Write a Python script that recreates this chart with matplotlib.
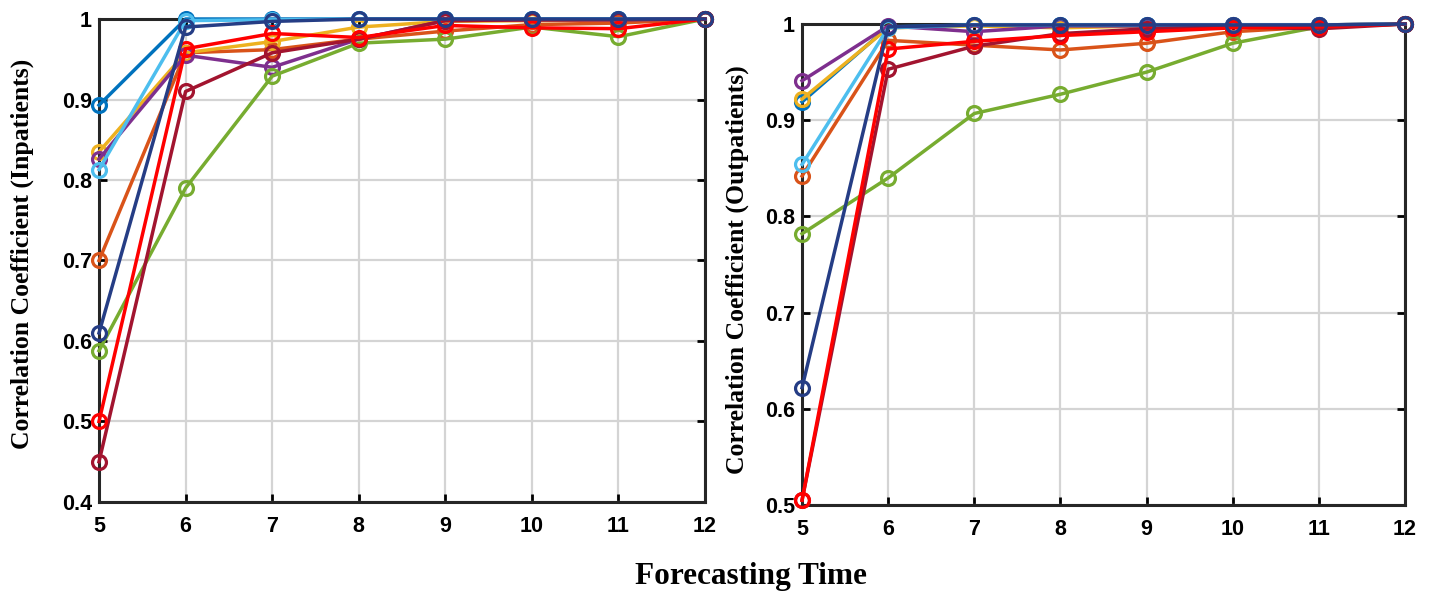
import matplotlib
matplotlib.use("Agg")
import matplotlib.pyplot as plt

# forecasting time steps
steps = [5, 6, 7, 8, 9, 10, 11, 12]

# MATLAB-like colours, one per series
colors = ["#0072BD", "#D95319", "#EDB120", "#7E2F8E", "#77AC30",
          "#4DBEEE", "#A2142F", "#FF0000", "#253D85"]

# inpatients (left panel)
in_blue   = [0.893, 1.000, 1.000, 1.000, 1.000, 1.000, 1.000, 1.000]
in_orange = [0.700, 0.958, 0.962, 0.975, 0.985, 0.993, 0.995, 1.000]
in_yellow = [0.835, 0.958, 0.972, 0.990, 0.997, 0.998, 0.999, 1.000]
in_purple = [0.826, 0.955, 0.940, 0.975, 0.998, 0.999, 0.999, 1.000]
in_green  = [0.588, 0.790, 0.929, 0.970, 0.975, 0.990, 0.978, 1.000]
in_lblue  = [0.813, 0.998, 0.999, 1.000, 1.000, 1.000, 1.000, 1.000]
in_dred   = [0.450, 0.910, 0.958, 0.975, 0.998, 0.999, 0.999, 1.000]
in_red    = [0.500, 0.963, 0.982, 0.977, 0.992, 0.989, 0.988, 1.000]
in_navy   = [0.610, 0.990, 0.997, 1.000, 1.000, 1.000, 1.000, 1.000]

# outpatients (right panel)
out_blue   = [0.919, 0.997, 0.999, 0.999, 0.999, 0.999, 0.999, 1.000]
out_orange = [0.842, 0.983, 0.978, 0.973, 0.980, 0.992, 0.997, 1.000]
out_yellow = [0.922, 0.996, 0.998, 0.996, 0.998, 0.999, 0.999, 1.000]
out_purple = [0.941, 0.998, 0.992, 0.998, 0.998, 0.999, 0.999, 1.000]
out_green  = [0.782, 0.840, 0.907, 0.927, 0.950, 0.980, 0.997, 1.000]
out_lblue  = [0.854, 0.996, 0.999, 0.999, 0.999, 0.999, 0.999, 1.000]
out_dred   = [0.505, 0.953, 0.977, 0.990, 0.995, 0.997, 0.995, 1.000]
out_red    = [0.505, 0.974, 0.982, 0.988, 0.992, 0.996, 0.997, 1.000]
out_navy   = [0.622, 0.997, 0.999, 0.999, 0.999, 0.999, 0.999, 1.000]

inpatients = [in_blue, in_orange, in_yellow, in_purple, in_green,
              in_lblue, in_dred, in_red, in_navy]
outpatients = [out_blue, out_orange, out_yellow, out_purple, out_green,
               out_lblue, out_dred, out_red, out_navy]

tick_font = {"family": "Liberation Sans", "weight": "bold", "size": 15.5}
label_font = {"family": "Liberation Serif", "weight": "bold", "size": 18.5}

fig = plt.figure(figsize=(14.33, 5.94), dpi=100)
ax1 = fig.add_axes([0.0691, 0.1549, 0.4229, 0.8131])
ax2 = fig.add_axes([0.5597, 0.1498, 0.4208, 0.8098])


def draw(ax, series, ylim, yticks, ylabel, label_x, label_y):
    for vals, c in zip(series, colors):
        ax.plot(steps, vals, "-o", color=c, lw=2.5, ms=10, mfc="none",
                mew=2.3, clip_on=False, zorder=3)
    ax.set_xlim(5, 12)
    ax.set_ylim(*ylim)
    ax.set_xticks(steps)
    ax.set_yticks(yticks)
    ax.set_yticklabels(["1" if t == 1 else f"{t:.1f}" for t in yticks])
    ax.grid(True, color="#d4d4d4", lw=1.6)
    ax.set_axisbelow(True)
    ax.tick_params(direction="in", length=6, width=2, top=True, right=True)
    ax.tick_params(axis="x", pad=10)
    ax.tick_params(axis="y", pad=5)
    for lab in ax.get_xticklabels() + ax.get_yticklabels():
        lab.set_fontproperties(tick_font)
    for sp in ax.spines.values():
        sp.set_linewidth(2.2)
        sp.set_color("#262626")
    ax.set_ylabel(ylabel, fontdict=label_font)
    ax.yaxis.set_label_coords(label_x, label_y)


draw(ax1, inpatients, (0.4, 1.0), [0.4, 0.5, 0.6, 0.7, 0.8, 0.9, 1.0],
     "Correlation Coefficient (Inpatients)", -0.107, 0.513)
draw(ax2, outpatients, (0.5, 1.0), [0.5, 0.6, 0.7, 0.8, 0.9, 1.0],
     "Correlation Coefficient (Outpatients)", -0.088, 0.489)

fig.text(0.5237, 0.029, "Forecasting Time", ha="center", va="center",
         family="Liberation Serif", weight="bold", size=22.5)

fig.savefig("out.png", dpi=100, facecolor="white")
